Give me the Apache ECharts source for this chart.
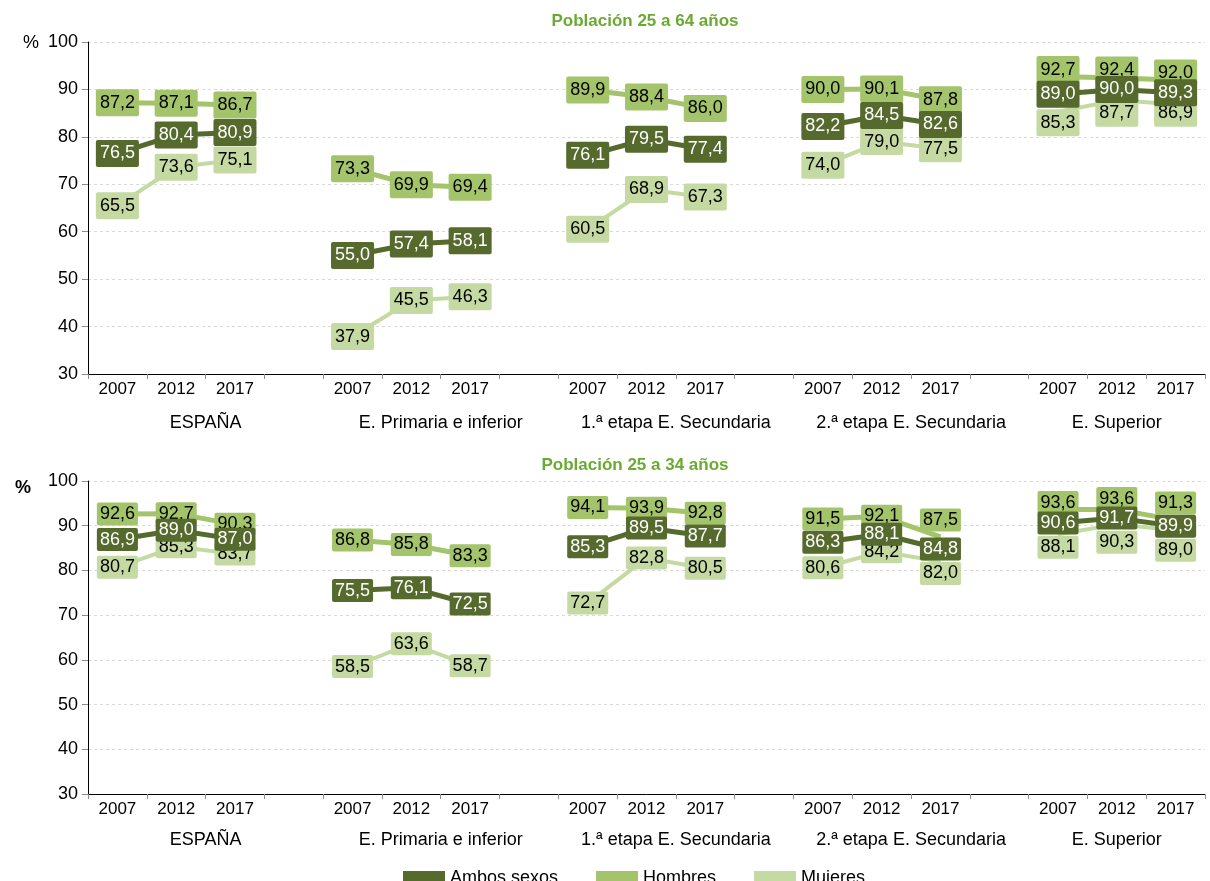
<!DOCTYPE html>
<html>
<head>
<meta charset="utf-8">
<script src="https://cdn.jsdelivr.net/npm/echarts@6/dist/echarts.min.js"></script>
<style>
html,body{margin:0;padding:0;background:#fff;}
#chart{width:1210px;height:881px;}
</style>
</head>
<body>
<div id="chart"></div>
<script>
// ---------- data ----------
const groups = ['ESPAÑA', 'E. Primaria e inferior', '1.ª etapa E. Secundaria', '2.ª etapa E. Secundaria', 'E. Superior'];
const years = ['2007', '2012', '2017'];
const yTicks = [30, 40, 50, 60, 70, 80, 90, 100];
const seriesNames = ['Ambos sexos', 'Hombres', 'Mujeres'];
const panelTitles = ['Población 25 a 64 años', 'Población 25 a 34 años'];

// Población 25 a 64 años
const ambos_25_64   = [76.5, 80.4, 80.9,  55.0, 57.4, 58.1,  76.1, 79.5, 77.4,  82.2, 84.5, 82.6,  89.0, 90.0, 89.3];
const hombres_25_64 = [87.2, 87.1, 86.7,  73.3, 69.9, 69.4,  89.9, 88.4, 86.0,  90.0, 90.1, 87.8,  92.7, 92.4, 92.0];
const mujeres_25_64 = [65.5, 73.6, 75.1,  37.9, 45.5, 46.3,  60.5, 68.9, 67.3,  74.0, 79.0, 77.5,  85.3, 87.7, 86.9];

// Población 25 a 34 años
const ambos_25_34   = [86.9, 89.0, 87.0,  75.5, 76.1, 72.5,  85.3, 89.5, 87.7,  86.3, 88.1, 84.8,  90.6, 91.7, 89.9];
const hombres_25_34 = [92.6, 92.7, 90.3,  86.8, 85.8, 83.3,  94.1, 93.9, 92.8,  91.5, 92.1, 87.5,  93.6, 93.6, 91.3];
const mujeres_25_34 = [80.7, 85.3, 83.7,  58.5, 63.6, 58.7,  72.7, 82.8, 80.5,  80.6, 84.2, 82.0,  88.1, 90.3, 89.0];

// ---------- styling (kept apart from data) ----------
const colors = { 'Ambos sexos': '#566a2d', 'Hombres': '#a4c46b', 'Mujeres': '#c5daa2' };
const labelColors = { 'Ambos sexos': '#ffffff', 'Hombres': '#000000', 'Mujeres': '#000000' };
const lineWidths = { 'Ambos sexos': 5, 'Hombres': 5, 'Mujeres': 4 };
const zOrder = { 'Hombres': 2, 'Mujeres': 3, 'Ambos sexos': 4 };
// label vertical nudges (px) used in the original to avoid overlaps
const labelNudges = [
  { 'Hombres': {12: -7, 13: -8, 14: -7}, 'Mujeres': {12: 11, 13: 13, 14: 9} },
  { 'Hombres': {11: -17, 12: -7, 13: -11, 14: -17}, 'Mujeres': {11: 12, 12: 13, 13: 18, 14: 20} }
];
const FONT = 'Liberation Sans, Arial, sans-serif';

// ---------- build ----------
const categories = [];
groups.forEach((g, gi) => {
  years.forEach(y => categories.push(gi + '|' + y));
  if (gi < groups.length - 1) categories.push(gi + '|gap');
});
const nSlots = categories.length;

// group label positions in half-slot units
const groupLabelPos = {};
groups.forEach((g, gi) => {
  const start = gi * (years.length + 1);
  const span = gi < groups.length - 1 ? years.length + 1 : years.length;
  groupLabelPos[Math.round((start + span / 2) * 2)] = g;
});

function toSlots(vals, nudge) {
  const out = [];
  groups.forEach((g, gi) => {
    for (let k = 0; k < years.length; k++) {
      const idx = gi * years.length + k;
      const v = vals[idx];
      if (nudge && nudge[idx] !== undefined) {
        out.push({ value: v, label: { offset: [0, nudge[idx]] } });
      } else {
        out.push(v);
      }
    }
    if (gi < groups.length - 1) out.push(null);
  });
  return out;
}

const panels = [
  { 'Ambos sexos': ambos_25_64, 'Hombres': hombres_25_64, 'Mujeres': mujeres_25_64 },
  { 'Ambos sexos': ambos_25_34, 'Hombres': hombres_25_34, 'Mujeres': mujeres_25_34 }
];

const gridDefs = [
  { left: 88, width: 1117, top: 42, height: 332 },
  { left: 88, width: 1117, top: 481, height: 313 }
];
const groupMargins = [40, 37];
const boxPadding = [[5, 4, 4, 4], [3, 3, 2, 3]];

const xAxes = [], yAxes = [], series = [];
gridDefs.forEach((gd, p) => {
  xAxes.push({
    type: 'category', gridIndex: p, data: categories, boundaryGap: true,
    axisLine: { lineStyle: { color: '#000', width: 1 } },
    axisTick: { show: true, interval: 0, length: 5, lineStyle: { color: '#8c8c8c' } },
    axisLabel: {
      interval: 0, margin: 7, fontSize: 17, color: '#000', fontFamily: FONT,
      formatter: v => { const y = v.split('|')[1]; return y === 'gap' ? '' : y; }
    },
    splitLine: { show: false }
  });
  xAxes.push({
    type: 'value', gridIndex: p, min: 0, max: nSlots * 2, interval: 1, position: 'bottom',
    axisLine: { show: false }, axisTick: { show: false }, splitLine: { show: false },
    axisLabel: {
      margin: groupMargins[p], fontSize: 18, color: '#000', fontFamily: FONT,
      showMinLabel: true, showMaxLabel: true,
      formatter: v => groupLabelPos[v] || ''
    }
  });
  yAxes.push({
    type: 'value', gridIndex: p, min: yTicks[0], max: yTicks[yTicks.length - 1], interval: yTicks[1] - yTicks[0],
    axisLine: { show: true, lineStyle: { color: '#000', width: 1 } },
    axisTick: { show: true, length: 6, lineStyle: { color: '#8c8c8c' } },
    axisLabel: { fontSize: 18, color: '#000', margin: 10, fontFamily: FONT },
    splitLine: { show: true, lineStyle: { color: '#d9d9d9', type: [3, 3], width: 1 } }
  });
  ['Hombres', 'Mujeres', 'Ambos sexos'].forEach(name => {
    series.push({
      name: name, type: 'line', xAxisIndex: p * 2, yAxisIndex: p,
      data: toSlots(panels[p][name], labelNudges[p][name]),
      connectNulls: false, z: zOrder[name],
      symbol: 'rect', symbolSize: 1, showSymbol: true,
      itemStyle: { color: colors[name] },
      lineStyle: { color: colors[name], width: lineWidths[name] },
      emphasis: { disabled: true },
      label: {
        show: true, position: 'inside',
        formatter: prm => prm.value == null ? '' : Number(prm.value).toFixed(1).replace('.', ','),
        color: labelColors[name], fontSize: 18, fontFamily: FONT,
        backgroundColor: colors[name], padding: boxPadding[p], borderRadius: 2
      },
      animation: false
    });
  });
});

const chart = echarts.init(document.getElementById('chart'), null, { renderer: 'canvas' });
chart.setOption({
  backgroundColor: '#ffffff',
  animation: false,
  grid: gridDefs,
  xAxis: xAxes,
  yAxis: yAxes,
  series: series,
  legend: {
    data: seriesNames, left: 398, top: 864, icon: 'rect',
    itemWidth: 42, itemHeight: 14, itemGap: 38,
    textStyle: { fontSize: 18, color: '#000', fontFamily: FONT },
    selectedMode: false
  },
  graphic: [
    { type: 'text', x: 645, y: 21, style: { text: panelTitles[0], fill: '#6aaa32', font: 'bold 17px ' + FONT, textAlign: 'center', textVerticalAlign: 'middle' } },
    { type: 'text', x: 635, y: 465, style: { text: panelTitles[1], fill: '#6aaa32', font: 'bold 17px ' + FONT, textAlign: 'center', textVerticalAlign: 'middle' } },
    { type: 'text', x: 23, y: 43, style: { text: '%', fill: '#000', font: '18px ' + FONT, textAlign: 'left', textVerticalAlign: 'middle' } },
    { type: 'text', x: 15, y: 488, style: { text: '%', fill: '#000', font: 'bold 18px ' + FONT, textAlign: 'left', textVerticalAlign: 'middle' } }
  ]
});
</script>
</body>
</html>
